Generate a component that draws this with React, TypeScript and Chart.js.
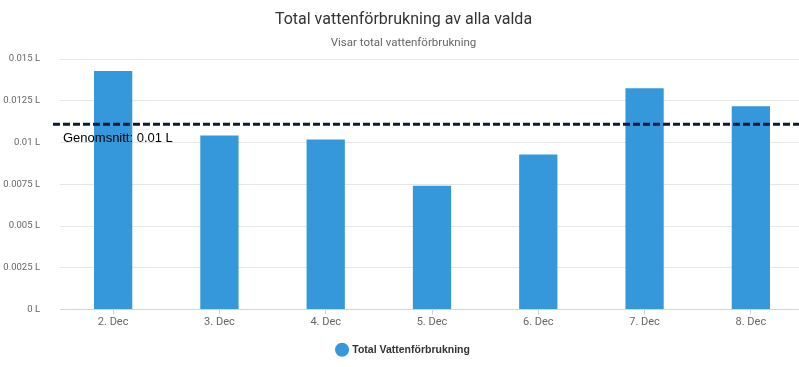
import React, { useEffect, useRef } from "react";
import { Chart, registerables } from "chart.js";

Chart.register(...registerables);

const categories = ["2. Dec", "3. Dec", "4. Dec", "5. Dec", "6. Dec", "7. Dec", "8. Dec"];
const waterValues = [0.01428, 0.01042, 0.01018, 0.00741, 0.00928, 0.01325, 0.01217];
const averageValue = 0.0111;
const averageLabel = "Genomsnitt: 0.01 L";
const yTicks = [0, 0.0025, 0.005, 0.0075, 0.01, 0.0125, 0.015];
const titleText = "Total vattenförbrukning av alla valda";
const subtitleText = "Visar total vattenförbrukning";
const seriesName = "Total Vattenförbrukning";

const condensed = "Roboto, sans-serif";
const plain = "'Liberation Sans', Arial, sans-serif";

const averagePlugin = {
  id: "averageLine",
  afterDatasetsDraw(chart: any) {
    const { ctx, chartArea, scales } = chart;
    const y = scales.y.getPixelForValue(averageValue);
    ctx.save();
    ctx.strokeStyle = "#0c1a3c";
    ctx.lineWidth = 3;
    ctx.setLineDash([7, 3]);
    ctx.beginPath();
    ctx.moveTo(chartArea.left - 7, y);
    ctx.lineTo(chart.width, y);
    ctx.stroke();
    ctx.setLineDash([]);
    ctx.fillStyle = "#000000";
    ctx.font = "13px " + plain;
    ctx.textBaseline = "alphabetic";
    ctx.textAlign = "left";
    ctx.fillText(averageLabel, chartArea.left + 3, y + 18);
    ctx.restore();
  },
};

export default function App() {
  const ref = useRef<HTMLCanvasElement>(null);
  useEffect(() => {
    if (!ref.current) return;
    const chart = new Chart(ref.current, {
      type: "bar",
      data: {
        labels: categories,
        datasets: [
          {
            label: seriesName,
            data: waterValues,
            backgroundColor: "#3498db",
            borderWidth: 0,
            categoryPercentage: 1,
            barPercentage: 0.36,
          },
        ],
      },
      options: {
        responsive: false,
        animation: false,
        maintainAspectRatio: false,
        layout: { padding: { left: 3, right: 6, top: 0, bottom: 2 } },
        plugins: {
          title: {
            display: true,
            text: titleText,
            color: "#333333",
            font: { family: condensed, size: 16, weight: "normal" },
            padding: { top: 10, bottom: 2 },
          },
          subtitle: {
            display: true,
            text: subtitleText,
            color: "#666666",
            font: { family: condensed, size: 11.5, weight: "normal" },
            padding: { top: 5, bottom: 9 },
          },
          legend: {
            position: "bottom",
            labels: {
              usePointStyle: true,
              pointStyle: "circle",
              boxWidth: 10,
              boxHeight: 10,
              color: "#333333",
              font: { family: plain, size: 10.5, weight: "bold" },
              padding: 11,
            },
          },
          tooltip: { enabled: false },
        },
        scales: {
          x: {
            afterFit(axis: any) {
              axis.height = 24;
            },
            grid: {
              display: true,
              drawOnChartArea: false,
              drawTicks: true,
              tickLength: 5,
              offset: false,
              color: "#ccd6eb",
            },
            border: { display: true, color: "#ccd6eb" },
            ticks: {
              color: "#666666",
              font: { family: condensed, size: 11 },
              padding: 1,
            },
          },
          y: {
            min: 0,
            max: 0.015,
            afterFit(axis: any) {
              axis.width = 57;
            },
            afterBuildTicks(axis: any) {
              axis.ticks = yTicks.map((v) => ({ value: v }));
            },
            grid: { color: "#e6e6e6", drawTicks: false },
            border: { display: false },
            ticks: {
              color: "#666666",
              font: { family: condensed, size: 9.5 },
              padding: 20,
              callback: (v: any) => Number(Number(v).toFixed(4)).toString() + " L",
            },
          },
        },
      },
      plugins: [averagePlugin],
    });
    return () => chart.destroy();
  }, []);
  return (
    <div style={{ position: "fixed", left: 0, top: 0, width: 799, height: 367, overflow: "hidden", background: "#fff" }}>
      <canvas ref={ref} width={810} height={367} style={{ width: 810, height: 367 }} />
    </div>
  );
}
